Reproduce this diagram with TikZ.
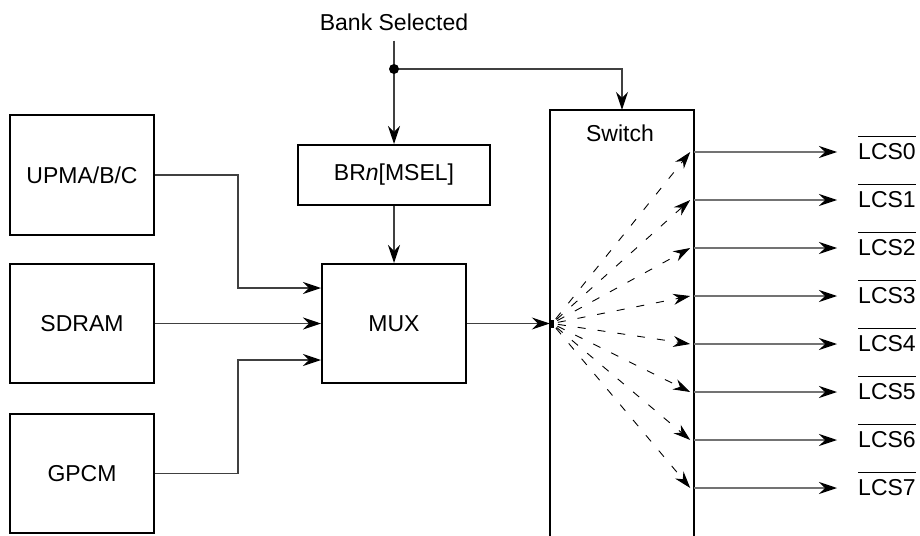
\documentclass[tikz,border=0pt]{standalone}
\usepackage{fontspec}
\setmainfont{Liberation Sans}
\usetikzlibrary{arrows.meta}
\begin{document}
\begin{tikzpicture}[x=1pt,y=-1pt,
  txt/.style={inner sep=0pt, font=\fontsize{23}{27}\selectfont},
  blk/.style={txt, draw, line width=2pt},
  tipA/.tip={Stealth[length=18pt,width=12pt,inset=6pt,color=black]},
  tipB/.tip={Stealth[length=17pt,width=11pt,inset=5.5pt,color=black]},
  wire/.style={draw=black!75, line width=1.2pt},
  conn/.style={wire, -tipA},
  outw/.style={draw=black!55, line width=1.3pt, -tipA},
  dsh/.style={draw=black, line width=0.9pt, dash pattern=on 8pt off 12pt, dash phase=14pt, -tipB}
]
\useasboundingbox (0,0) rectangle (920,535);

% left blocks
\node[blk, minimum width=144pt, minimum height=120pt] (up) at (82,175) {UPMA/B/C};
\node[blk, minimum width=144pt, minimum height=119pt] (sd) at (82,323.5) {SDRAM};
\node[blk, minimum width=144pt, minimum height=119pt] (gp) at (82,473.5) {GPCM};

% middle
\node[blk, minimum width=192pt, minimum height=60pt] (br) at (394,175) {BR\textit{n}[MSEL]};
\node[blk, minimum width=144pt, minimum height=119pt] (mux) at (394,323.5) {MUX};

% switch (open at bottom)
\node[inner sep=0pt, minimum width=144pt, minimum height=440pt] (sw) at (622,330) {};
\draw[line width=2pt] (sw.south west) -- (sw.north west) -- (sw.north east) -- (sw.south east);
\node[txt] (swl) at (620,133) {Switch};

% bank selected
\node[txt] (bank) at (394,22) {Bank Selected};
\coordinate (dot) at (394,69);
\draw[wire] ([yshift=-10pt]bank.south) -- (dot);
\draw[conn] (dot) -- (br.north);
\draw[conn] (dot) -| (sw.north);
\fill (dot) circle (5pt);

% into MUX
\draw[conn] (up.east) -- ++(83,0) |- ([yshift=35.5pt]mux.west);
\draw[conn] (sd.east) -- (mux.west);
\draw[conn] (gp.east) -- ++(83,0) |- ([yshift=-36.5pt]mux.west);
\draw[conn] (br.south) -- (mux.north);

% MUX to switch
\draw[conn] (mux.east) -- (mux.east -| sw.west);
\coordinate (src) at (552,323.5);
\fill (550.5,319.5) rectangle (554,327.5);

% outputs
\foreach \i in {0,...,7}{
  \node[txt, anchor=west] (l\i) at (858,{152+48*\i}) {LCS\i};
  \draw[line width=1.6pt] ([yshift=7pt]l\i.north west) -- ([yshift=7pt]l\i.north east);
  \draw[outw] (l\i -| sw.east) -- ([xshift=-21pt]l\i.west);
  \draw[dsh] (src) -- ([xshift=-4pt]l\i -| sw.east);
}
\end{tikzpicture}
\end{document}
